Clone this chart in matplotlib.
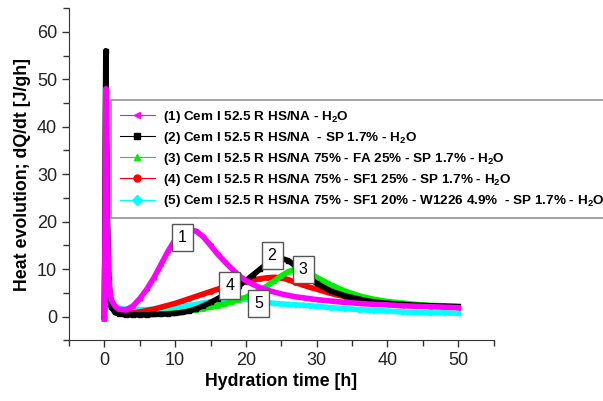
import matplotlib
matplotlib.use("Agg")
import matplotlib.pyplot as plt
from matplotlib.ticker import MultipleLocator

plt.rcParams['font.family'] = ['Liberation Sans', 'DejaVu Sans']
plt.rcParams['mathtext.fontset'] = 'custom'
plt.rcParams['mathtext.bf'] = 'Liberation Sans:bold'
plt.rcParams['mathtext.rm'] = 'Liberation Sans:bold'
plt.rcParams['mathtext.default'] = 'bf'

# hydration time [h]
t = [0, 0.1, 0.2, 0.3, 0.4, 0.6, 0.8, 1.0, 1.5, 2, 3, 4, 5, 6, 7, 8, 9, 10,
     11, 12, 13, 14, 15, 16, 17, 18, 19, 20, 21, 22, 23, 24, 25, 26, 27, 28,
     29, 30, 32, 34, 36, 38, 40, 42, 44, 46, 48, 50]

# heat evolution dQ/dt [J/gh]
q1 = [-0.5, 20, 48, 35, 20, 9, 5, 3.5, 2.2, 1.6, 1.4, 2.2, 3.8, 5.8, 8.2, 11,
      13.8, 16.2, 17.6, 18.3, 18.0, 16.8, 15.0, 13.2, 11.6, 10.1, 8.7, 7.6,
      6.8, 6.1, 5.6, 5.2, 4.8, 4.5, 4.2, 4.0, 3.8, 3.6, 3.3, 3.0, 2.8, 2.6,
      2.5, 2.3, 2.2, 2.1, 2.0, 1.9]
q2 = [0, 25, 56, 40, 22, 8, 4, 2, 0.9, 0.6, 0.4, 0.4, 0.4, 0.4, 0.5, 0.5,
      0.6, 0.7, 0.9, 1.2, 1.7, 2.3, 3.0, 3.8, 4.6, 5.5, 6.5, 7.6, 8.8, 10.0,
      11.2, 12.1, 12.3, 11.8, 10.7, 9.4, 8.1, 7.0, 5.4, 4.4, 3.7, 3.1, 2.8,
      2.6, 2.4, 2.3, 2.2, 2.1]
q3 = [0, 22, 51, 38, 22, 9, 4.5, 2.3, 1.0, 0.6, 0.4, 0.4, 0.4, 0.4, 0.5,
      0.6, 0.7, 0.8, 1.0, 1.2, 1.4, 1.7, 2.0, 2.3, 2.7, 3.1, 3.6, 4.1, 4.8,
      5.6, 6.5, 7.5, 8.6, 9.5, 10.0, 9.8, 9.1, 8.3, 6.7, 5.4, 4.4, 3.7, 3.2,
      2.9, 2.6, 2.4, 2.3, 2.2]
q4 = [0, 20, 46, 34, 20, 8, 4, 2.2, 1.2, 0.9, 0.8, 0.8, 1.0, 1.3, 1.6, 2.0,
      2.4, 2.8, 3.3, 3.8, 4.3, 4.8, 5.3, 5.8, 6.2, 6.6, 7.0, 7.4, 7.7, 8.0,
      8.2, 8.3, 8.2, 7.8, 7.2, 6.7, 6.2, 5.8, 4.9, 4.2, 3.6, 3.2, 2.9, 2.6,
      2.4, 2.3, 2.2, 2.1]
q5 = [-0.5, 2, 4, 3.5, 2.8, 2.2, 2.0, 1.9, 1.8, 1.8, 1.6, 1.5, 1.5, 1.5,
      1.6, 1.7, 1.9, 2.0, 2.2, 2.4, 2.6, 2.9, 3.1, 3.4, 3.6, 3.8, 3.9, 3.7,
      3.4, 3.1, 3.0, 2.8, 2.7, 2.6, 2.5, 2.4, 2.3, 2.2, 1.9, 1.7, 1.5, 1.3,
      1.2, 1.0, 0.9, 0.8, 0.8, 0.7]

labels = [
    '(1) Cem I 52.5 R HS/NA - H$_2$O',
    '(2) Cem I 52.5 R HS/NA  - SP 1.7% - H$_2$O',
    '(3) Cem I 52.5 R HS/NA 75% - FA 25% - SP 1.7% - H$_2$O',
    '(4) Cem I 52.5 R HS/NA 75% - SF1 25% - SP 1.7% - H$_2$O',
    '(5) Cem I 52.5 R HS/NA 75% - SF1 20% - W1226 4.9%  - SP 1.7% - H$_2$O',
]
series = [q1, q2, q3, q4, q5]
colors = ['#ff00ff', '#000000', '#00ee00', '#ff0000', '#00ffff']
markers = ['<', 's', '^', 'o', 'D']

# curve tags: (number, x, y)
tag_nums = ['1', '2', '3', '4', '5']
tag_x = [11.0, 23.7, 28.1, 17.7, 21.8]
tag_y = [16.7, 12.9, 9.9, 6.6, 2.7]

fig = plt.figure(figsize=(6.03, 4.01), dpi=100)
ax = fig.add_axes([0.1144, 0.151, 0.7042, 0.829])

# draw in reverse so that magenta ends on top
for q, c, m in reversed(list(zip(series, colors, markers))):
    ax.plot(t, q, color=c, lw=4, marker=m, ms=2.5, mec=c, mfc=c, zorder=2)

handles = []
for c, m, lab in zip(colors, markers, labels):
    h, = ax.plot([], [], color=c, lw=0.8, marker=m, ms=5, label=lab)
    handles.append(h)

for n, x, y in zip(tag_nums, tag_x, tag_y):
    ax.text(x, y, n, fontsize=11.5, ha='center', va='center', zorder=5,
            bbox=dict(boxstyle='square,pad=0.38', fc='white', ec='#555555', lw=1))

ax.set_xlim(-5, 55)
ax.set_ylim(-5, 65)
ax.xaxis.set_minor_locator(MultipleLocator(5))
ax.yaxis.set_minor_locator(MultipleLocator(5))
ax.set_xticks([0, 10, 20, 30, 40, 50])
ax.set_yticks([0, 10, 20, 30, 40, 50, 60])
ax.tick_params(which='both', direction='out', color='#333333', width=1)
ax.tick_params(which='major', length=5, labelsize=13, labelcolor='#222222')
ax.tick_params(which='minor', length=4)
for s in ['top', 'right']:
    ax.spines[s].set_visible(False)
for s in ['left', 'bottom']:
    ax.spines[s].set_color('#333333')

ax.set_xlabel('Hydration time [h]', fontsize=12.8, fontweight='bold', labelpad=3)
ax.set_ylabel('Heat evolution; dQ/dt [J/gh]', fontsize=12.8, fontweight='bold')

leg = fig.legend(handles=handles, loc='upper left',
                 bbox_to_anchor=(111 / 603, 1 - 100 / 401),
                 prop={'weight': 'bold', 'size': 9.7},
                 frameon=True, fancybox=False, handlelength=2.6,
                 labelspacing=0.38, borderpad=0.65, handletextpad=0.6,
                 borderaxespad=0)
leg.get_frame().set_edgecolor('#777777')
leg.get_frame().set_linewidth(1.2)

fig.savefig('out.png', dpi=100)
